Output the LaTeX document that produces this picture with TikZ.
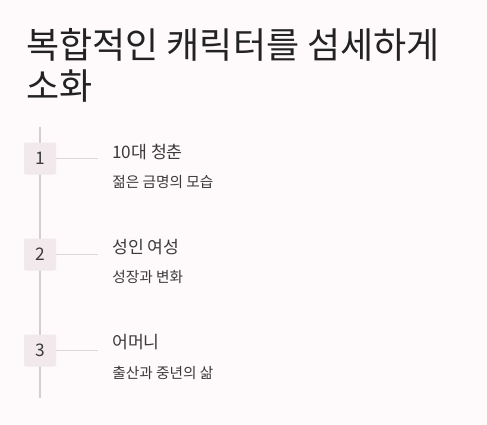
\documentclass[tikz,border=0pt]{standalone}
\usepackage{fontspec}
\setmainfont{Noto Sans CJK KR}
\definecolor{pagebg}{HTML}{FEF9FA}
\definecolor{boxfill}{HTML}{F1E9EB}
\definecolor{railgray}{HTML}{D3CFD1}
\definecolor{linkgray}{HTML}{DDD8DA}
\definecolor{inkdark}{HTML}{222222}
\definecolor{inkmid}{HTML}{3A3A3A}
\tikzset{
  numbox/.style={fill=boxfill, rounded corners=1.5pt, minimum size=24pt, inner sep=0pt,
    text=inkmid, font=\fontsize{13pt}{15pt}\selectfont},
  rail/.style={draw=railgray, line width=0.9pt},
  link/.style={draw=linkgray, line width=1.4pt},
  titletext/.style={anchor=base west, inner sep=0pt, text=inkdark, font=\fontsize{27pt}{30pt}\selectfont},
  headtext/.style={anchor=base west, inner sep=0pt, text=inkmid, font=\fontsize{12.9pt}{14pt}\selectfont},
  subtext/.style={anchor=base west, inner sep=0pt, text=inkmid, font=\fontsize{11pt}{12pt}\selectfont}
}
\begin{document}
\begin{tikzpicture}[x=0.75pt, y=-0.75pt]
  \useasboundingbox[fill=pagebg] (0,0) rectangle (487,425);
  % title
  \node[titletext] (t1) at (26,58) {복합적인 캐릭터를 섬세하게};
  \node[titletext] (t2) at (26,99) {소화};
  % timeline rail
  \coordinate (top) at (40,127);
  \coordinate (bot) at (40,398);
  \draw[rail] (top) -- (bot);
  % steps
  \node[numbox] (n1) at (40,158.5) {1};
  \node[numbox] (n2) [below of=n1, node distance=72pt] {2};
  \node[numbox] (n3) [below of=n2, node distance=72pt] {3};
  \coordinate (e1) at ([xshift=31.5pt]n1.east);
  \coordinate (e2) at ([xshift=31.5pt]n2.east);
  \coordinate (e3) at ([xshift=31.5pt]n3.east);
  \path[link] (n1.east) -- (e1)
              (n2.east) -- (e2)
              (n3.east) -- (e3);
  % labels
  \node[headtext] (h1) at (112,158) {10대 청춘};
  \node[subtext]  (s1) at (112,187) {젊은 금명의 모습};
  \node[headtext] (h2) at (112,253) {성인 여성};
  \node[subtext]  (s2) at (112,282) {성장과 변화};
  \node[headtext] (h3) at (112,348) {어머니};
  \node[subtext]  (s3) at (112,378) {출산과 중년의 삶};
\end{tikzpicture}
\end{document}
